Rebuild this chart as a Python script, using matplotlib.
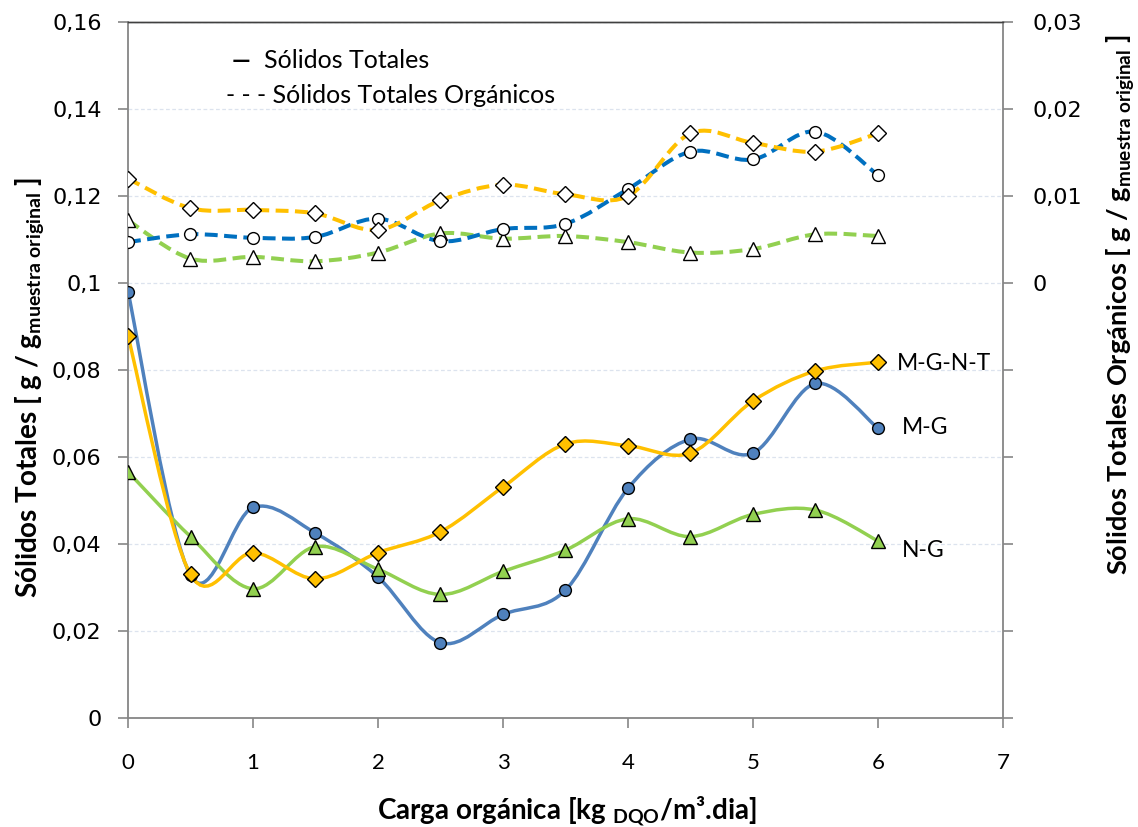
import numpy as np
import matplotlib
matplotlib.use("Agg")
import matplotlib.pyplot as plt
from matplotlib.path import Path
from matplotlib.patches import PathPatch
from matplotlib.ticker import FuncFormatter, MultipleLocator
from matplotlib import font_manager

# ----- data -----
carga = [0, 0.5, 1, 1.5, 2, 2.5, 3, 3.5, 4, 4.5, 5, 5.5, 6]

# Solidos totales (left axis)
st_mg   = [0.098, 0.0328, 0.0484, 0.0425, 0.0324, 0.0173, 0.0238, 0.0294, 0.0528, 0.0641, 0.0609, 0.0769, 0.0666]
st_mgnt = [0.0878, 0.033, 0.038, 0.032, 0.038, 0.0428, 0.0531, 0.063, 0.0626, 0.0609, 0.0729, 0.0798, 0.0818]
st_ng   = [0.0566, 0.0417, 0.0297, 0.0394, 0.0342, 0.0284, 0.0337, 0.0386, 0.0458, 0.0417, 0.0468, 0.0478, 0.0407]

# Solidos totales organicos (right axis)
sto_mg   = [0.0047, 0.0056, 0.0052, 0.0053, 0.0074, 0.0048, 0.0062, 0.0068, 0.0108, 0.0151, 0.0142, 0.0174, 0.0124]
sto_mgnt = [0.0120, 0.0086, 0.0084, 0.0080, 0.0061, 0.0095, 0.0113, 0.0102, 0.0100, 0.0172, 0.0161, 0.0151, 0.0172]
sto_ng   = [0.0072, 0.0028, 0.0030, 0.0025, 0.0035, 0.0057, 0.0051, 0.0054, 0.0047, 0.0035, 0.0039, 0.0056, 0.0054]

labels = ["M-G-N-T", "M-G", "N-G"]

BLUE = "#4F81BD"
BLUE2 = "#0070C0"
YELLOW = "#FFC000"
GREEN = "#92D050"
GRAY = "#868686"

names = {f.name for f in font_manager.fontManager.ttflist}
LABEL_FONT = "Lato" if "Lato" in names else "DejaVu Sans"
XTICK_FONT = "Liberation Sans Narrow" if "Liberation Sans Narrow" in names else LABEL_FONT

plt.rcParams["mathtext.fontset"] = "custom"
plt.rcParams["mathtext.rm"] = LABEL_FONT + ":bold"
plt.rcParams["mathtext.it"] = LABEL_FONT + ":bold"
plt.rcParams["mathtext.bf"] = LABEL_FONT + ":bold"


def smooth_path(x, y):
    # Excel-like smoothed line: cubic bezier through every point
    p = np.column_stack([x, y]).astype(float)
    n = len(p)
    verts = [p[0]]
    codes = [Path.MOVETO]
    for i in range(n - 1):
        p0 = p[i - 1] if i > 0 else p[i]
        p1 = p[i]
        p2 = p[i + 1]
        p3 = p[i + 2] if i + 2 < n else p[i + 1]
        verts += [p1 + (p2 - p0) / 6.0, p2 - (p3 - p1) / 6.0, p2]
        codes += [Path.CURVE4] * 3
    return Path(verts, codes)


def draw_series(ax, y, color, ls, lw, marker, mfc, ms):
    ax.add_patch(PathPatch(smooth_path(carga, y), fill=False, edgecolor=color,
                           lw=lw, ls=ls, capstyle="butt", zorder=2))
    ax.plot(carga, y, ls="none", marker=marker, ms=ms, mfc=mfc, mec="black",
            mew=1.0, zorder=3)


fig = plt.figure(figsize=(11.38, 8.27), dpi=100)
ax = fig.add_axes([128 / 1138, 1 - 718 / 827, 875 / 1138, 696 / 827])
ax2 = ax.twinx()

# ---- left axis: solidos totales ----
draw_series(ax, st_mg, BLUE, "-", 2.5, "o", BLUE, 8.5)
draw_series(ax, st_ng, GREEN, "-", 2.5, "^", GREEN, 9.5)
draw_series(ax, st_mgnt, YELLOW, "-", 2.5, "D", YELLOW, 8)

# ---- right axis: solidos totales organicos ----
dash = (0, (3.2, 1.6))
draw_series(ax2, sto_ng, GREEN, dash, 2.9, "^", "white", 9.5)
draw_series(ax2, sto_mg, BLUE2, dash, 2.9, "o", "white", 8.5)
draw_series(ax2, sto_mgnt, YELLOW, dash, 2.9, "D", "white", 8)

ax.set_xlim(0, 7)
ax.set_ylim(0, 0.16)
ax2.set_ylim(-0.05, 0.03)
ax.xaxis.set_major_locator(MultipleLocator(1))
ax.yaxis.set_major_locator(MultipleLocator(0.02))
ax2.yaxis.set_major_locator(MultipleLocator(0.01))


def comma_fmt(v, pos):
    if abs(v) < 1e-9:
        return "0"
    return f"{v:.2f}".rstrip("0").replace(".", ",")


def right_fmt(v, pos):
    if v < -1e-9:
        return ""
    return comma_fmt(v, pos)


ax.yaxis.set_major_formatter(FuncFormatter(comma_fmt))
ax2.yaxis.set_major_formatter(FuncFormatter(right_fmt))

ax.grid(axis="y", color="#DCE3EE", ls=(0, (3, 2)), lw=0.9)
ax.set_axisbelow(True)

for a in (ax, ax2):
    for s in ("left", "right", "bottom"):
        a.spines[s].set_color(GRAY)
        a.spines[s].set_linewidth(1.3)
    a.spines["top"].set_color("#404040")
    a.spines["top"].set_linewidth(1.0)
ax.spines["right"].set_visible(False)
ax2.spines["left"].set_visible(False)
ax2.spines["bottom"].set_visible(False)

ax.tick_params(axis="y", direction="out", length=7, width=1.2, color=GRAY,
               pad=12, labelsize=16)
ax.tick_params(axis="x", direction="out", length=7, width=1.2, color=GRAY,
               pad=18, labelsize=16)
ax2.tick_params(axis="y", direction="out", length=7, width=1.2, color=GRAY,
                pad=14, labelsize=16)
for t in ax.get_xticklabels():
    t.set_fontfamily(XTICK_FONT)

# series labels
ax.text(6.15, 0.0815, labels[0], fontsize=16.5, family=LABEL_FONT, va="center")
ax.text(6.19, 0.0667, labels[1], fontsize=16.5, family=LABEL_FONT, va="center")
ax.text(6.19, 0.0385, labels[2], fontsize=16.5, family=LABEL_FONT, va="center")

# legend drawn as text like the original
ax.text(0.118, 0.944, "\u2014", transform=ax.transAxes, fontsize=17,
        family=LABEL_FONT, va="center", fontweight="bold")
ax.text(0.156, 0.944, "Sólidos Totales", transform=ax.transAxes,
        fontsize=18, family=LABEL_FONT, va="center")
ax.text(0.112, 0.895, "- - - Sólidos Totales Orgánicos", transform=ax.transAxes,
        fontsize=18, family=LABEL_FONT, va="center")

# axis titles
fig.text(30 / 1138, 1 - 388 / 827,
         r"Sólidos Totales [ g / g$_{\mathrm{muestra\ original}}$ ]",
         rotation=90, ha="center", va="center", fontsize=20,
         family=LABEL_FONT, fontweight="bold")
fig.text(1121 / 1138, 1 - 305 / 827,
         r"Sólidos Totales Orgánicos [ g / g$_{\mathrm{muestra\ original}}$ ]",
         rotation=90, ha="center", va="center", fontsize=19.5,
         family=LABEL_FONT, fontweight="bold")
fig.text(567 / 1138, 1 - 811 / 827,
         r"Carga orgánica [kg $_{\mathrm{DQO}}$/m³.dia]",
         ha="center", va="center", fontsize=20,
         family=LABEL_FONT, fontweight="bold")

fig.savefig("out.png", dpi=100)
